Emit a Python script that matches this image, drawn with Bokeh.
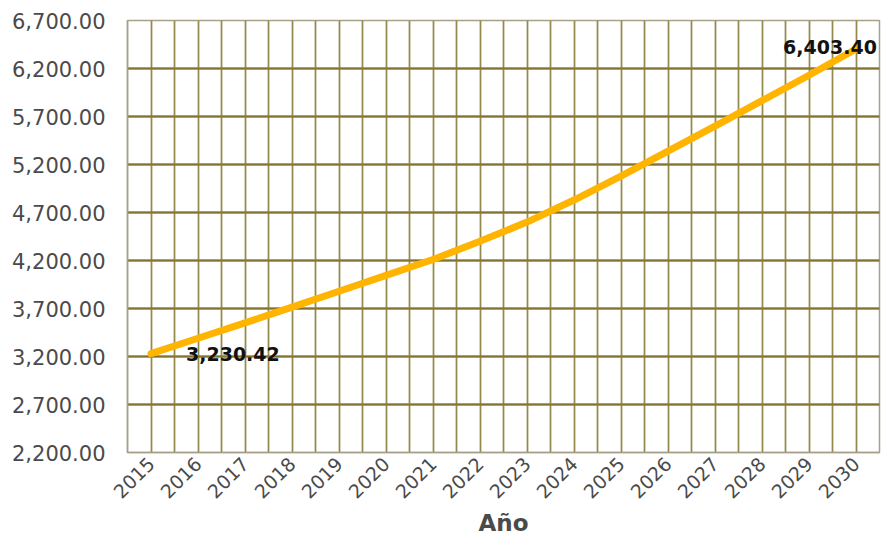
from bokeh.plotting import figure
from bokeh.models import (ColumnDataSource, FixedTicker, NumeralTickFormatter,
                          LabelSet, Grid, Range1d)
from bokeh.core.properties import value
from bokeh.embed import file_html
from bokeh.resources import INLINE
import math

# ---- data ----
years = [2015, 2016, 2017, 2018, 2019, 2020, 2021, 2022,
         2023, 2024, 2025, 2026, 2027, 2028, 2029, 2030]
values = [3230.42, 3390, 3550, 3715, 3880, 4045, 4210, 4400,
          4600, 4830, 5080, 5340, 5600, 5865, 6130, 6403.40]
y_ticks = [2200, 2700, 3200, 3700, 4200, 4700, 5200, 5700, 6200, 6700]
x_label = "Año"

FONT = "DejaVu Sans"
GRAY = "#4a4a4a"

p = figure(width=884, height=551, output_backend="svg", toolbar_location=None,
           x_range=Range1d(years[0] - 0.5, years[-1] + 0.5),
           y_range=Range1d(y_ticks[0], y_ticks[-1]),
           min_border_left=127, min_border_right=5, min_border_top=20,
           min_border_bottom=99)
p.background_fill_color = "white"
p.border_fill_color = "white"
p.outline_line_color = "#a8a08a"
p.outline_line_width = 1.5

# grid ticks: every half year
half_ticks = sorted(set([y - 0.5 for y in years] + years + [years[-1] + 0.5]))

# soft yellow halo under the grid lines
halo_x = Grid(dimension=0, ticker=FixedTicker(ticks=half_ticks),
              grid_line_color="#f8ec9a", grid_line_width=4, grid_line_alpha=0.7)
halo_y = Grid(dimension=1, ticker=FixedTicker(ticks=y_ticks),
              grid_line_color="#f8ec9a", grid_line_width=5, grid_line_alpha=0.7)
p.add_layout(halo_x)
p.add_layout(halo_y)

p.xgrid.ticker = FixedTicker(ticks=half_ticks)
p.xgrid.grid_line_color = "#948a4e"
p.xgrid.grid_line_width = 1.5
p.ygrid.ticker = FixedTicker(ticks=y_ticks)
p.ygrid.grid_line_color = "#84742c"
p.ygrid.grid_line_width = 2

# axes
p.xaxis.ticker = FixedTicker(ticks=years)
p.xaxis.major_label_orientation = math.pi / 4
p.xaxis.major_label_text_font = FONT
p.xaxis.major_label_text_font_size = "19px"
p.xaxis.major_label_text_color = GRAY
p.xaxis.major_label_standoff = 8
p.xaxis.axis_label = x_label
p.xaxis.axis_label_text_font = FONT
p.xaxis.axis_label_text_font_style = "bold"
p.xaxis.axis_label_text_font_size = "23px"
p.xaxis.axis_label_text_color = GRAY
p.xaxis.axis_label_standoff = 2

p.yaxis.ticker = FixedTicker(ticks=y_ticks)
p.yaxis.formatter = NumeralTickFormatter(format="0,0.00")
p.yaxis.major_label_text_font = FONT
p.yaxis.major_label_text_font_size = "21px"
p.yaxis.major_label_text_color = GRAY
p.yaxis.major_label_standoff = 22

for ax in (p.xaxis, p.yaxis):
    ax.axis_line_color = "#a8a08a"
    ax.axis_line_width = 1.5
    ax.major_tick_line_color = None
    ax.minor_tick_line_color = None
    ax.major_tick_out = 0
    ax.major_tick_in = 0

src = ColumnDataSource(dict(x=years, y=values))
p.line("x", "y", source=src, line_color="#FFB400", line_width=7,
       line_cap="round", line_join="round")

first = ColumnDataSource(dict(x=[years[0]], y=[values[0]],
                              t=[f"{values[0]:,.2f}"]))
last = ColumnDataSource(dict(x=[years[-1]], y=[values[-1]],
                             t=[f"{values[-1]:,.2f}"]))
p.add_layout(LabelSet(x="x", y="y", text="t", source=first, x_offset=35,
                      text_align="left", text_baseline="middle",
                      text_font=value(FONT), text_font_style="bold",
                      text_font_size="19px", text_color="#111111"))
p.add_layout(LabelSet(x="x", y="y", text="t", source=last, x_offset=-26,
                      y_offset=2,
                      text_align="center", text_baseline="middle",
                      text_font=value(FONT), text_font_style="bold",
                      text_font_size="19px", text_color="#111111"))

open("out.html", "w").write(file_html(p, INLINE))
